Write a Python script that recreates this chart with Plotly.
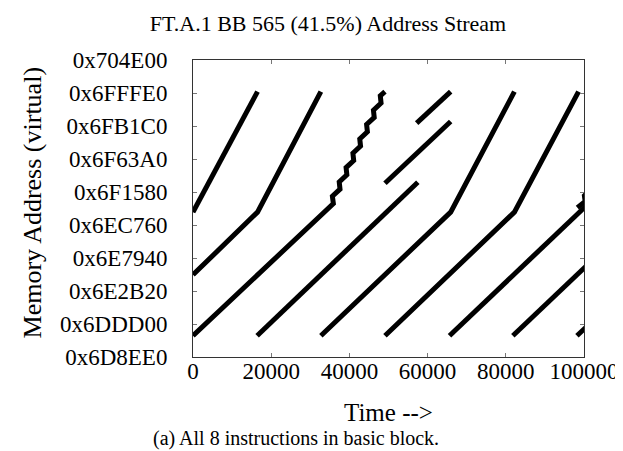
import plotly.graph_objects as go

# ---------------- data ----------------
x_tick_vals = [0, 20000, 40000, 60000, 80000, 100000]
y_tick_labels = ["0x6D8EE0", "0x6DDD00", "0x6E2B20", "0x6E7940", "0x6EC760",
                 "0x6F1580", "0x6F63A0", "0x6FB1C0", "0x6FFFE0", "0x704E00"]

stream_a_t = [0, 16500]
stream_a_addr = [7267800, 7340800]

stream_b_t = [0, 16500, 32700]
stream_b_addr = [7229800, 7267800, 7340800]

stream_c_t = [0, 34000, 35900, 35650, 37600, 37400, 39350, 39150, 41100,
              40900, 42850, 42650, 44600, 44400, 46350, 46150, 48100, 47900, 49100]
stream_c_addr = [7192900, 7268800, 7273000, 7277400, 7281700, 7286100, 7290400,
                 7294800, 7299100, 7303500, 7307800, 7312200, 7316500, 7320900,
                 7325200, 7329600, 7333900, 7338300, 7340800]

stream_d_t = [16400, 57500]
stream_d_addr = [7192900, 7285900]

stream_e_t = [49100, 65900]
stream_e_addr = [7285300, 7322700]

stream_f_t = [57200, 65900]
stream_f_addr = [7321700, 7340800]

stream_g_t = [32700, 65900, 82200]
stream_g_addr = [7192900, 7267800, 7340800]

stream_h_t = [49100, 82200, 98600]
stream_h_addr = [7192900, 7267800, 7340800]

stream_i_t = [65600, 100500]
stream_i_addr = [7192900, 7271500]

stream_i2_t = [98300, 100300, 100100, 101500]
stream_i2_addr = [7270500, 7274300, 7277800, 7281000]

stream_j_t = [81800, 100500]
stream_j_addr = [7192900, 7235000]

stream_k_t = [98200, 100500]
stream_k_addr = [7192900, 7198000]

streams = [
    (stream_a_t, stream_a_addr), (stream_b_t, stream_b_addr),
    (stream_c_t, stream_c_addr), (stream_d_t, stream_d_addr),
    (stream_e_t, stream_e_addr), (stream_f_t, stream_f_addr),
    (stream_g_t, stream_g_addr), (stream_h_t, stream_h_addr),
    (stream_i_t, stream_i_addr), (stream_i2_t, stream_i2_addr),
    (stream_j_t, stream_j_addr), (stream_k_t, stream_k_addr),
]

y_tick_vals = [int(s, 16) for s in y_tick_labels]

FONT = "Liberation Serif"

fig = go.Figure()
for t, a in streams:
    fig.add_trace(go.Scatter(x=t, y=a, mode="lines",
                             line=dict(color="black", width=5),
                             showlegend=False, hoverinfo="skip"))

axis_common = dict(
    showgrid=False, zeroline=False, showline=True, linecolor="#333",
    linewidth=1, mirror="allticks", ticks="inside", ticklen=4,
    tickcolor="#777", tickwidth=1,
    tickfont=dict(family=FONT, size=23, color="black"),
)

fig.update_xaxes(range=[0, 100000], tickvals=x_tick_vals,
                 ticktext=[str(v) for v in x_tick_vals],
                 ticklabelstandoff=-7, **axis_common)
fig.update_yaxes(range=[y_tick_vals[0], y_tick_vals[-1]], tickvals=y_tick_vals,
                 ticktext=y_tick_labels, ticklabelstandoff=20, **axis_common)

fig.update_layout(
    width=623, height=451,
    margin=dict(l=185, r=41, t=52, b=102),
    paper_bgcolor="white", plot_bgcolor="white",
    font=dict(family=FONT, color="black"),
    title=dict(text="FT.A.1 BB 565 (41.5%) Address Stream",
               font=dict(family=FONT, size=22, color="black"),
               xref="container", yref="container",
               x=320 / 623, y=1 - 15 / 451,
               xanchor="center", yanchor="middle"),
    annotations=[
        dict(text="Time -->", xref="paper", yref="paper",
             x=0.5, y=(349 - 404) / 297, xanchor="center", yanchor="middle",
             showarrow=False, font=dict(family=FONT, size=25, color="black")),
        dict(text="Memory Address (virtual)", xref="paper", yref="paper",
             x=(22 - 185) / 397, y=(349 - 194) / 297, textangle=-90,
             xanchor="center", yanchor="middle",
             showarrow=False, font=dict(family=FONT, size=26, color="black")),
        dict(text="(a) All 8 instructions in basic block.", xref="paper",
             yref="paper", x=(290 - 185) / 397, y=(349 - 430) / 297,
             xanchor="center", yanchor="middle",
             showarrow=False, font=dict(family=FONT, size=20, color="black")),
    ],
)

fig.write_html("out.html")
